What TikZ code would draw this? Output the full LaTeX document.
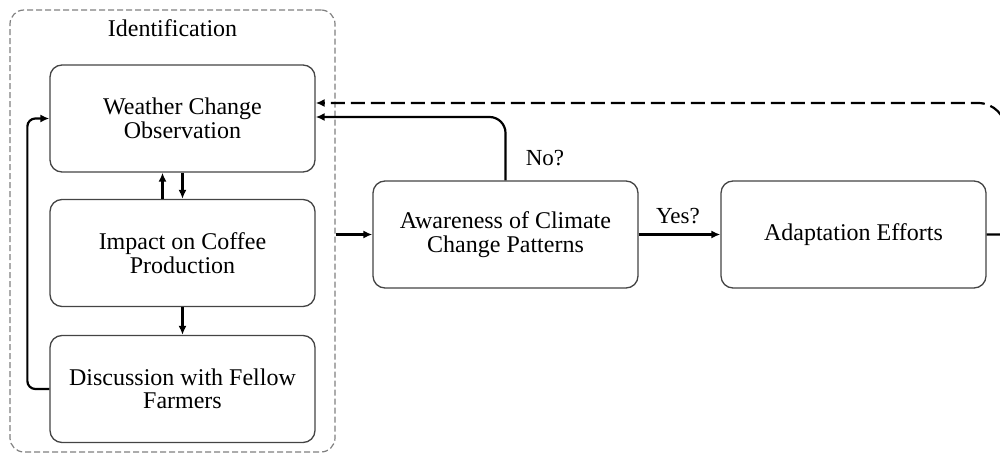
\documentclass[tikz,border=0pt]{standalone}
\usepackage{fontspec}
\setmainfont{Liberation Serif}
\usetikzlibrary{arrows.meta}
\definecolor{boxgray}{HTML}{444444}
\definecolor{grpgray}{HTML}{808080}
\begin{document}
\begin{tikzpicture}[x=1pt,y=-1pt,
  box/.style={draw=boxgray, line width=1.3pt, rounded corners=12pt,
    minimum width=265pt, minimum height=107pt, align=center, inner sep=0pt,
    font=\fontsize{24}{23.5}\selectfont},
  grp/.style={draw=grpgray, line width=1.2pt, dash pattern=on 6pt off 3pt,
    rounded corners=14pt, minimum width=325pt, minimum height=442pt, inner sep=0pt},
  arr/.style={line width=2.2pt, -{Latex[length=9pt,width=8pt]}},
  fb/.style={arr, dash pattern=on 14pt off 6pt},
  lbl/.style={font=\fontsize{23}{23}\selectfont, inner sep=0pt}]
\useasboundingbox (0,0) rectangle (1000,454);
\clip (0,0) rectangle (1000,454);
\node[grp] (group) at (172.5,231) {};
\node[lbl, font=\fontsize{24}{24}\selectfont] (ident) at (172.5,28) {Identification};
\node[box] (wco) at (182.5,118.5) {Weather Change\\Observation};
\node[box] (imp) at (182.5,253) {Impact on Coffee\\Production};
\node[box] (dis) at (182.5,389) {Discussion with Fellow\\Farmers};
\node[box] (awa) at (505.5,234.5) {Awareness of Climate\\Change Patterns};
\node[box] (ada) at (853.5,234.5) {Adaptation Efforts};
\node[lbl] (no) at (545,158) {No?};
\node[lbl] (yes) at (678,216) {Yes?};
% arrows inside identification group
\draw[arr] ([xshift=-20pt]imp.north) -- ([xshift=-20pt]wco.south);
\draw[arr] (wco.south) -- (imp.north);
\draw[arr] (imp.south) -- (dis.north);
\draw[arr, rounded corners=8pt] (dis.west) -- ++(-22,0) |- (wco.west);
% main flow
\draw[arr] (group.east |- awa.west) -- (awa.west);
\draw[arr] (awa.east) -- (ada.west);
% feedback
\draw[arr, rounded corners=16pt] (awa.north) |- ([yshift=1.5pt]wco.east);
\draw[fb] (ada.east) -- (1006,234.5) -- (1006,200) [rounded corners=28pt] -- (1006,103) -- ([yshift=15.5pt]wco.east);
\end{tikzpicture}
\end{document}
